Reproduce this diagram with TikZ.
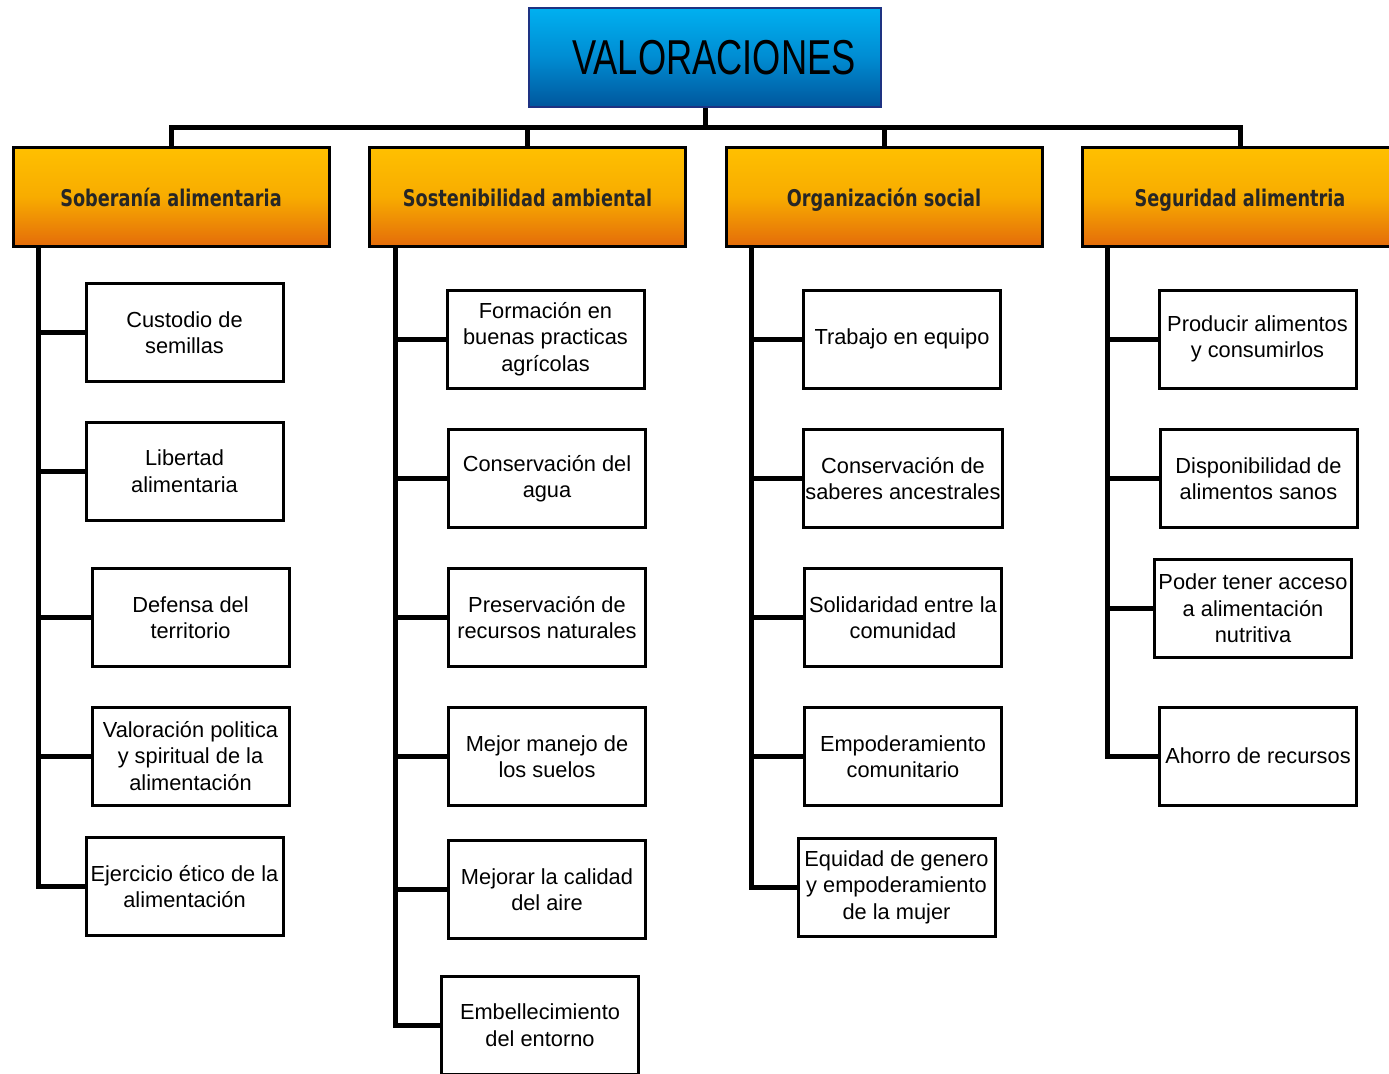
\documentclass[tikz,border=0pt]{standalone}
\usepackage{fontspec}
\setmainfont{Liberation Sans}
\newfontfamily\headfont[FakeStretch=0.77]{DejaVu Sans}
\newfontfamily\titlefont[FakeStretch=0.74]{Liberation Sans}
\usetikzlibrary{positioning}
\definecolor{skyA}{RGB}{0,176,240}
\definecolor{skyM}{RGB}{0,140,210}
\definecolor{skyB}{RGB}{0,86,156}
\definecolor{navy}{RGB}{30,50,130}
\definecolor{goldA}{RGB}{255,192,0}
\definecolor{goldM}{RGB}{248,172,0}
\definecolor{goldB}{RGB}{228,108,10}

\begin{document}
\begin{tikzpicture}[x=0.5pt,y=-0.5pt,
	title/.style={draw=navy,line width=1pt,top color=skyA,bottom color=skyB,middle color=skyM,minimum width=176pt,minimum height=49.5pt,font=\titlefont\fontsize{24.5}{28}\selectfont},
	head/.style={draw,line width=1.5pt,top color=goldA,bottom color=goldB,middle color=goldM,minimum width=158pt,minimum height=49.5pt,text height=9.8pt,text depth=0pt,font=\headfont\bfseries\fontsize{11.5}{13}\selectfont,text=black!85},
	item/.style={draw,line width=1.5pt,fill=white,minimum width=98.5pt,minimum height=49pt,align=center,inner sep=1pt,font=\fontsize{10.9}{13.25}\selectfont},
	link/.style={line width=2.5pt}]
	\useasboundingbox (0,0) rectangle (1389,1073);

	\node[title]					(val)	at (705,57.5)	{\hspace{9pt}VALORACIONES};

	\node[head]						(h1)	at (171,196.5)	{Soberanía alimentaria};
	\node[head]						(h2)	at (527.5,196.5)	{Sostenibilidad ambiental};
	\node[head]						(h3)	at (884,196.5)	{Organización social};
	\node[head]						(h4)	at (1240,196.5)	{Seguridad alimentria};

	% soberania
	\node[item]	(s1)	at (184.5,332.5)	{Custodio de\\semillas};
	\node[item]	(s2)	at (184.5,471)		{Libertad\\alimentaria};
	\node[item]	(s3)	at (190.5,617.5)	{Defensa del\\territorio};
	\node[item]	(s4)	at (190.5,756)		{Valoración politica\\y spiritual de la\\alimentación};
	\node[item]	(s5)	at (184.5,886.5)	{Ejercicio ético de la\\alimentación};

	% sostenibilidad
	\node[item]	(a1)	at (545.5,339)		{Formación en\\buenas practicas\\agrícolas};
	\node[item]	(a2)	at (547,478.5)		{Conservación del\\agua};
	\node[item]	(a3)	at (547,617.5)		{Preservación de\\recursos naturales};
	\node[item]	(a4)	at (547,756.5)		{Mejor manejo de\\los suelos};
	\node[item]	(a5)	at (547,889.5)		{Mejorar la calidad\\del aire};
	\node[item]	(a6)	at (540,1025)		{Embellecimiento\\del entorno};

	% organizacion
	\node[item]	(o1)	at (902,339)		{Trabajo en equipo};
	\node[item]	(o2)	at (903,478.5)		{Conservación de\\saberes ancestrales};
	\node[item]	(o3)	at (903,617.5)		{Solidaridad entre la\\comunidad};
	\node[item]	(o4)	at (903,756.5)		{Empoderamiento\\comunitario};
	\node[item]	(o5)	at (896.5,887)		{Equidad de genero\\y empoderamiento\\de la mujer};

	% seguridad
	\node[item]	(g1)	at (1257.5,339)		{Producir alimentos\\y consumirlos};
	\node[item]	(g2)	at (1258.5,478.5)	{Disponibilidad de\\alimentos sanos};
	\node[item]	(g3)	at (1253,608.5)		{Poder tener acceso\\a alimentación\\nutritiva};
	\node[item]	(g4)	at (1258,756)		{Ahorro de recursos};

	\coordinate (bar) at (705,127);
	\draw[link] (val.south) -- (bar);
	\draw[link] (h1.north) |- (bar) -| (h4.north);
	\draw[link] (h2.north) -- (h2.north |- bar);
	\draw[link] (h3.north) -- (h3.north |- bar);

	\coordinate (sp1) at ([xshift=13.5pt]h1.south west);
	\coordinate (sp2) at ([xshift=13.5pt]h2.south west);
	\coordinate (sp3) at ([xshift=13.5pt]h3.south west);
	\coordinate (sp4) at ([xshift=13.5pt]h4.south west);

	\draw[link] (sp1) |- (s5.west);
	\draw[link] (sp2) |- (a6.west);
	\draw[link] (sp3) |- (o5.west);
	\draw[link] (sp4) |- (g4.west);

	\foreach \n in {s1,s2,s3,s4}
		\draw[link] (\n.west) -- (\n.west -| sp1);
	\foreach \n in {a1,a2,a3,a4,a5}
		\draw[link] (\n.west) -- (\n.west -| sp2);
	\foreach \n in {o1,o2,o3,o4}
		\draw[link] (\n.west) -- (\n.west -| sp3);
	\foreach \n in {g1,g2,g3}
		\draw[link] (\n.west) -- (\n.west -| sp4);
\end{tikzpicture}
\end{document}
